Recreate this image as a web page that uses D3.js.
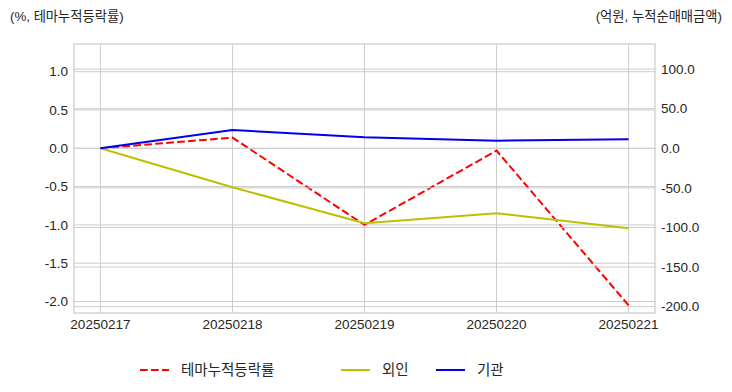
<!DOCTYPE html>
<html><head><meta charset="utf-8">
<script src="https://cdn.jsdelivr.net/npm/d3@7"></script>
<style>
body{margin:0;background:#fff;}
svg{display:block;font-family:"Liberation Sans","Noto Sans CJK KR",sans-serif;}
</style></head>
<body><svg id="c" width="732" height="392"></svg>
<script>
const dates = ["20250217","20250218","20250219","20250220","20250221"];
const themeRate = [0.0, 0.14, -1.0, -0.03, -2.05];
const foreign = [0.0, -49.2, -94.7, -82.0, -101.0];
const institution = [0.0, 23.1, 13.9, 9.6, 11.4];
const leftTicks = [1.0, 0.5, 0.0, -0.5, -1.0, -1.5, -2.0];
const rightTicks = [100, 50, 0, -50, -100, -150, -200];
const seriesNames = ["테마누적등락률", "외인", "기관"];
const leftTitle = "(%, 테마누적등락률)";
const rightTitle = "(억원, 누적순매매금액)";

const svg = d3.select("#c");
const L = 74, R = 655, T = 44, B = 313;
const txt = "#262626", gridC = "#cccccc";

const xs = d3.scaleLinear().domain([-0.2, 4.2]).range([L, R]);
const xp = (d, i) => xs(i);
const yL = d3.scaleLinear().domain([-2.15, 1.362]).range([B, T]);
const yR = d3.scaleLinear().domain([-208.0, 131.7]).range([B, T]);

// grids (left axis)
const g = svg.append("g");
g.selectAll(".vx").data(dates).join("line")
  .attr("x1", (d,i)=>xp(d,i)).attr("x2", (d,i)=>xp(d,i)).attr("y1", T).attr("y2", B)
  .attr("stroke", gridC).attr("stroke-width", 1);
g.selectAll(".gl").data(leftTicks).join("line")
  .attr("x1", L).attr("x2", R).attr("y1", d=>yL(d)).attr("y2", d=>yL(d))
  .attr("stroke", gridC).attr("stroke-width", 1);

// red line (left axis)
const lineL = d3.line().x((d,i)=>xs(i)).y(d=>yL(d));
svg.append("path").datum(themeRate).attr("d", lineL)
  .attr("fill","none").attr("stroke","#ff0000").attr("stroke-width",2)
  .attr("stroke-dasharray","7.7,3.3");

// right grid
svg.append("g").selectAll("line").data(rightTicks).join("line")
  .attr("x1", L).attr("x2", R).attr("y1", d=>yR(d)).attr("y2", d=>yR(d))
  .attr("stroke", gridC).attr("stroke-width", 1);

const lineR = d3.line().x((d,i)=>xs(i)).y(d=>yR(d));
svg.append("path").datum(foreign).attr("d", lineR)
  .attr("fill","none").attr("stroke","#bfbf00").attr("stroke-width",2);
svg.append("path").datum(institution).attr("d", lineR)
  .attr("fill","none").attr("stroke","#0000f0").attr("stroke-width",2);

// frame
svg.append("rect").attr("x", L).attr("y", T).attr("width", R-L).attr("height", B-T)
  .attr("fill","none").attr("stroke", gridC).attr("stroke-width",1.25);

// axes labels
const fs = 13.5;
const fmt = d => d3.format(".1f")(d).replace("−","-");
svg.append("g").selectAll("text").data(leftTicks).join("text")
  .attr("x", 68).attr("y", d=>yL(d)).attr("dy","0.35em").attr("text-anchor","end")
  .attr("font-size", fs).attr("fill", txt).text(fmt);
svg.append("g").selectAll("text").data(rightTicks).join("text")
  .attr("x", 661).attr("y", d=>yR(d)).attr("dy","0.35em").attr("text-anchor","start")
  .attr("font-size", fs).attr("fill", txt).text(fmt);
svg.append("g").selectAll("text").data(dates).join("text")
  .attr("x", (d,i)=>xp(d,i)).attr("y", 324).attr("dy","0.35em").attr("text-anchor","middle")
  .attr("font-size", fs).attr("fill", txt).text(d=>d);

// titles
svg.append("text").attr("x", 10).attr("y", 16).attr("dy","0.35em")
  .attr("font-size", 13.3).attr("fill", txt).text(leftTitle);
svg.append("text").attr("x", 722).attr("y", 16).attr("dy","0.35em").attr("text-anchor","end")
  .attr("font-size", 13.3).attr("fill", txt).text(rightTitle);

// legend
const leg = [
  {name: seriesNames[0], color:"#ff0000", dash:"7.7,3.3", x:140},
  {name: seriesNames[1], color:"#bfbf00", dash:null, x:341},
  {name: seriesNames[2], color:"#0000f0", dash:null, x:436}
];
const lg = svg.append("g").selectAll("g").data(leg).join("g")
  .attr("transform", d=>`translate(${d.x},370)`);
lg.append("line").attr("x1",0).attr("x2",29).attr("y1",0).attr("y2",0)
  .attr("stroke", d=>d.color).attr("stroke-width",2)
  .attr("stroke-dasharray", d=>d.dash);
lg.append("text").attr("x", 41).attr("y", 0).attr("dy","0.35em")
  .attr("font-size", 14.5).attr("fill", txt).text(d=>d.name);
</script></body></html>
